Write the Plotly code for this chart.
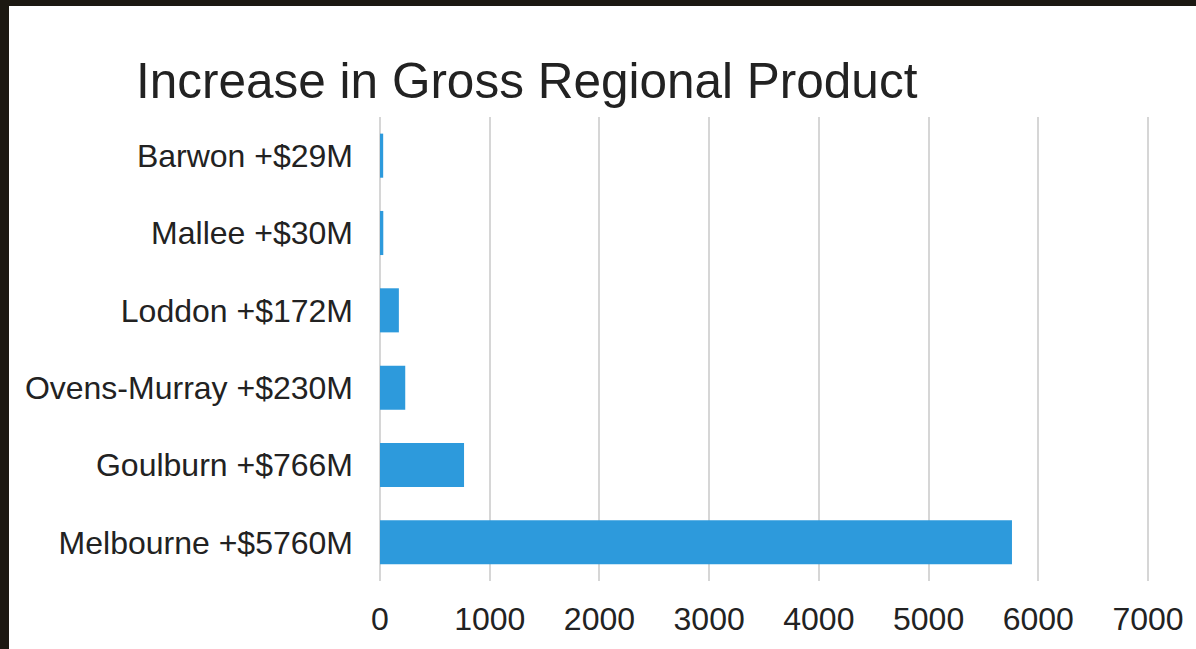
import plotly.graph_objects as go

regions = ["Barwon", "Mallee", "Loddon", "Ovens-Murray", "Goulburn", "Melbourne"]
increase_m = [29, 30, 172, 230, 766, 5760]
x_ticks = [0, 1000, 2000, 3000, 4000, 5000, 6000, 7000]
title_text = "Increase in Gross Regional Product"

labels = [f"{r} +${v}M" for r, v in zip(regions, increase_m)]

W, H = 1196, 649
L, R, T, B = 380, 46, 117, 68
pw, ph = W - L - R, H - T - B

font_family = "Liberation Sans, Arial, sans-serif"
text_color = "#222222"

fig = go.Figure(go.Bar(
    x=increase_m, y=labels, orientation="h",
    marker=dict(color="#2D9ADC", line=dict(width=0)),
    hoverinfo="x+y",
))

def px(xpix):
    return (xpix - L) / pw

def py(ypix):
    return (H - B - ypix) / ph

fig.update_layout(
    width=W, height=H,
    margin=dict(l=L, r=R, t=T, b=B),
    paper_bgcolor="white", plot_bgcolor="white",
    bargap=0.43,
    showlegend=False,
    font=dict(family=font_family, color=text_color, size=32),
    xaxis=dict(
        range=[0, 7018], tickvals=x_ticks, ticktext=[str(v) for v in x_ticks],
        showgrid=True, gridcolor="#d6d6d6", gridwidth=1.5,
        zeroline=True, zerolinecolor="#d6d6d6", zerolinewidth=1.5,
        showline=False, ticks="", tickfont=dict(size=32, color=text_color),
        ticklabelstandoff=16,
    ),
    yaxis=dict(
        autorange="reversed", showgrid=False, zeroline=False, showline=False,
        ticks="", tickfont=dict(size=32, color=text_color),
        ticklabelstandoff=26,
    ),
    annotations=[dict(
        text=title_text, xref="paper", yref="paper",
        x=px(134), y=py(80), xanchor="left", yanchor="middle",
        showarrow=False, font=dict(size=49.5, color=text_color, family=font_family),
    )],
    shapes=[
        dict(type="rect", xref="paper", yref="paper", layer="above",
             x0=px(0), x1=px(9), y0=py(H), y1=py(0),
             fillcolor="#1c1812", line=dict(width=0)),
        dict(type="rect", xref="paper", yref="paper", layer="above",
             x0=px(0), x1=px(W), y0=py(6), y1=py(0),
             fillcolor="#1c1812", line=dict(width=0)),
    ],
)

fig.write_html("out.html")
